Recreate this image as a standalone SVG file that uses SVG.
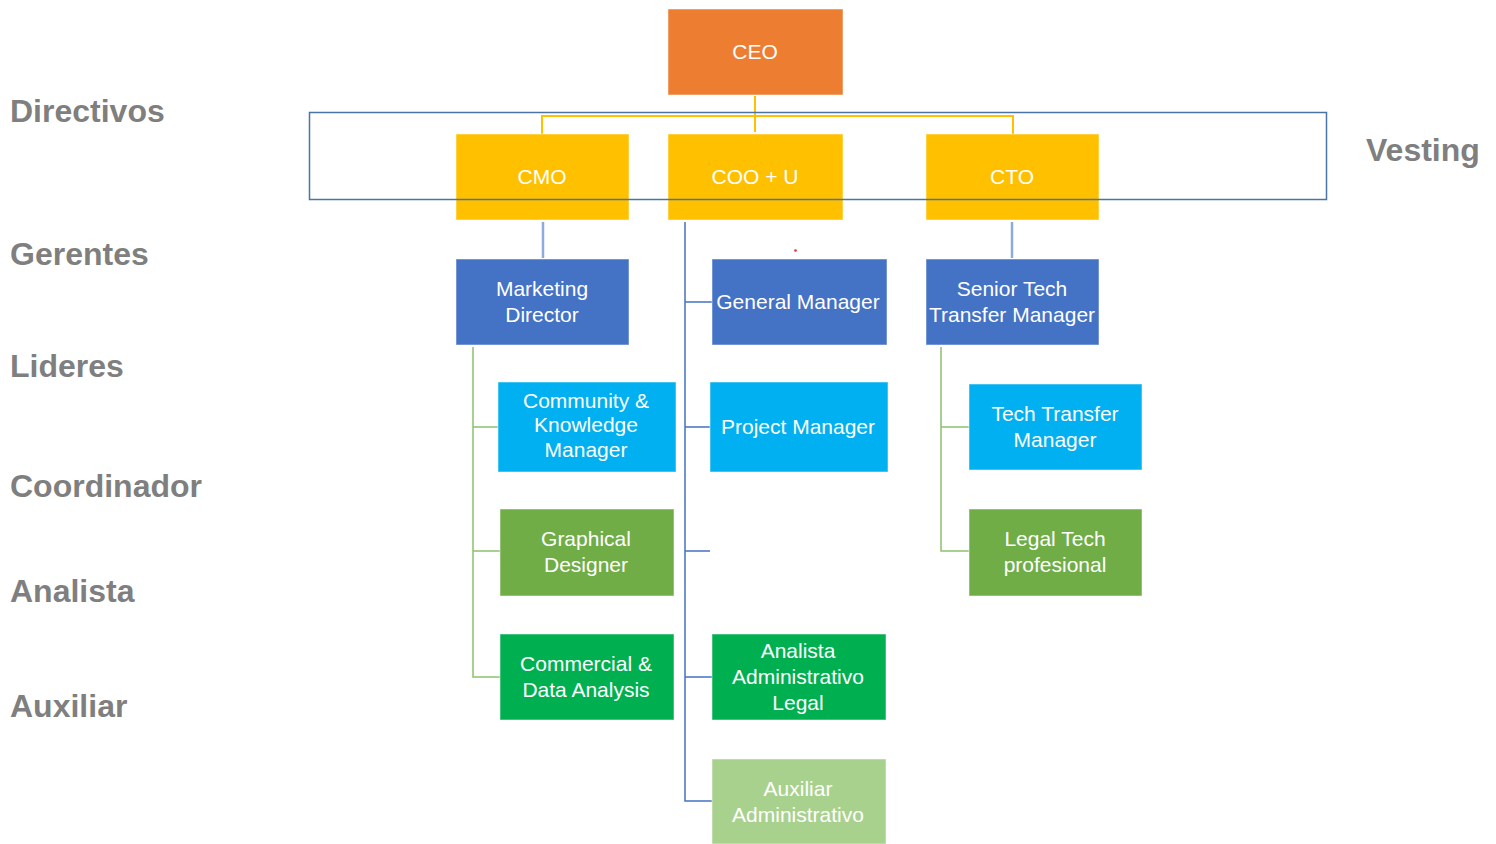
<svg xmlns="http://www.w3.org/2000/svg" width="1496" height="844" viewBox="0 0 1496 844">
<style>
.n{font-family:"Liberation Sans",Arial,sans-serif;font-size:21px;fill:#fff;text-anchor:middle}
.lv{font-family:"Liberation Sans",Arial,sans-serif;font-size:32px;font-weight:bold;fill:#7f7f7f}
.b{stroke:#fff;stroke-opacity:.5;stroke-width:1}
.orange{fill:#ed7d31}.yellow{fill:#ffc000}.blue{fill:#4472c4}.cyan{fill:#00b0f0}.olive{fill:#70ad47}.green{fill:#00b050}.lgreen{fill:#a9d18e}
.cy{fill:none;stroke:#ffc000;stroke-width:2}
.cb{fill:none;stroke:#4472c4;stroke-width:1.5}
.clb{fill:none;stroke:#8faadc;stroke-width:2.5}
.cg{fill:none;stroke:#8fc16e;stroke-width:1.5}
</style>
<rect width="1496" height="844" fill="#fff"/>
<g id="levels">
<text class="lv" x="10" y="122">Directivos</text>
<text class="lv" x="10" y="265">Gerentes</text>
<text class="lv" x="10" y="377">Lideres</text>
<text class="lv" x="10" y="497">Coordinador</text>
<text class="lv" x="10" y="602">Analista</text>
<text class="lv" x="10" y="717">Auxiliar</text>
<text class="lv" x="1366" y="161">Vesting</text>
</g>
<g id="connectors">
<path class="cy" d="M755 96V132M542 134V116H1013V134"/>
<path class="clb" d="M543 222V258M1012 222V258"/>
<path class="cb" d="M685 222V801H712M685 302H712M685 427H710M685 551H710M685 677H712"/>
<path class="cg" d="M473 347V677H500M473 427H498M473 551H500"/>
<path class="cg" d="M941 347V551H969M941 427H969"/>
</g>
<g id="CEO"><rect class="orange b" x="668" y="9" width="175" height="86"/><text class="n" x="755" y="59">CEO</text></g>
<g id="CMO"><rect class="yellow b" x="456" y="134" width="173" height="86"/><text class="n" x="542" y="184">CMO</text></g>
<g id="COO"><rect class="yellow b" x="668" y="134" width="175" height="86"/><text class="n" x="755" y="184">COO + U</text></g>
<g id="CTO"><rect class="yellow b" x="926" y="134" width="173" height="86"/><text class="n" x="1012" y="184">CTO</text></g>
<g id="vesting-frame"><rect x="309.5" y="112.5" width="1017" height="87" fill="none" stroke="#4a74a8" stroke-width="1.5"/></g>
<g id="marketing-director"><rect class="blue b" x="456" y="259" width="173" height="86"/><text class="n" x="542" y="296">Marketing</text><text class="n" x="542" y="322">Director</text></g>
<g id="general-manager"><rect class="blue b" x="712" y="259" width="175" height="86"/><text class="n" x="798" y="309">General Manager</text></g>
<g id="senior-tech"><rect class="blue b" x="926" y="259" width="173" height="86"/><text class="n" x="1012" y="296">Senior Tech</text><text class="n" x="1012" y="322">Transfer Manager</text></g>
<g id="community"><rect class="cyan b" x="498" y="382" width="178" height="90"/><text class="n" x="586" y="408">Community &amp;</text><text class="n" x="586" y="432">Knowledge</text><text class="n" x="586" y="457">Manager</text></g>
<g id="project-manager"><rect class="cyan b" x="710" y="382" width="178" height="90"/><text class="n" x="798" y="434">Project Manager</text></g>
<g id="tech-transfer"><rect class="cyan b" x="969" y="384" width="173" height="86"/><text class="n" x="1055" y="421">Tech Transfer</text><text class="n" x="1055" y="447">Manager</text></g>
<g id="graphical"><rect class="olive b" x="500" y="509" width="174" height="87"/><text class="n" x="586" y="546">Graphical</text><text class="n" x="586" y="572">Designer</text></g>
<g id="legal-tech"><rect class="olive b" x="969" y="509" width="173" height="87"/><text class="n" x="1055" y="546">Legal Tech</text><text class="n" x="1055" y="572">profesional</text></g>
<g id="commercial"><rect class="green b" x="500" y="634" width="174" height="86"/><text class="n" x="586" y="671">Commercial &amp;</text><text class="n" x="586" y="697">Data Analysis</text></g>
<g id="analista"><rect class="green b" x="712" y="634" width="174" height="86"/><text class="n" x="798" y="658">Analista</text><text class="n" x="798" y="684">Administrativo</text><text class="n" x="798" y="710">Legal</text></g>
<g id="auxiliar"><rect class="lgreen b" x="712" y="759" width="174" height="85"/><text class="n" x="798" y="796">Auxiliar</text><text class="n" x="798" y="822">Administrativo</text></g>
<circle cx="795.5" cy="250.5" r="1.3" fill="#e03030"/>
</svg>
